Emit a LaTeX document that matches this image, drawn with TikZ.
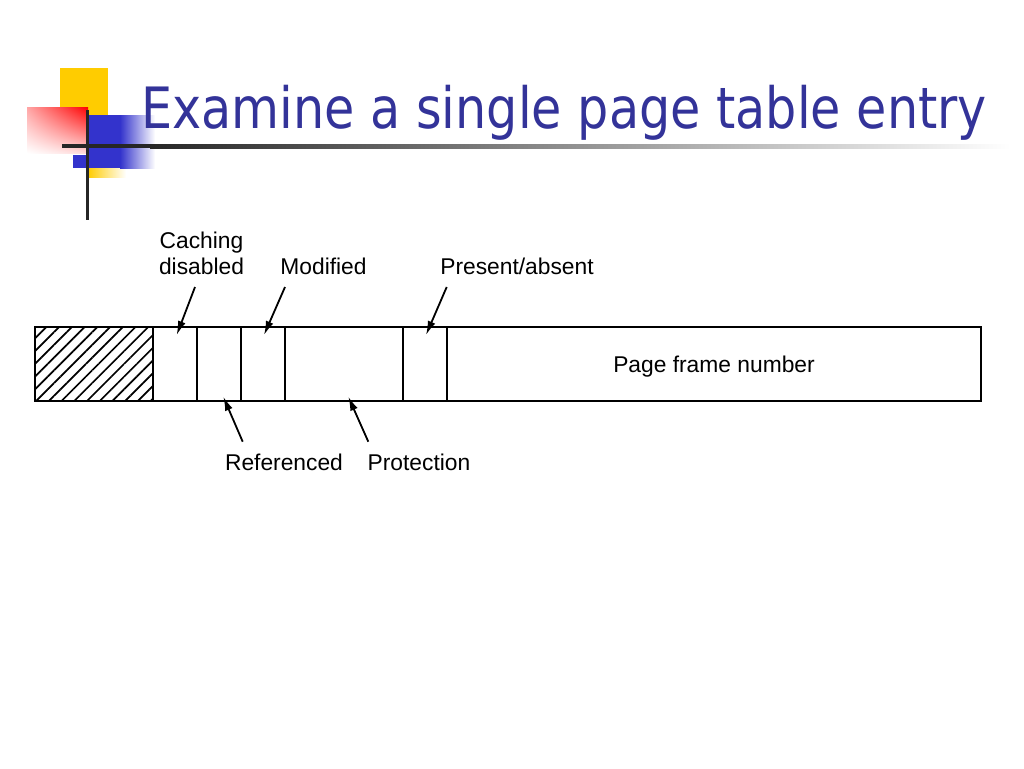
\documentclass[tikz,border=0pt]{standalone}
\usepackage{fontspec}
\setmainfont{Liberation Sans}
\newfontfamily\titlefont{DejaVu Sans}
\usepackage{xcolor}
\usetikzlibrary{positioning, patterns.meta, arrows.meta, shadings}

\definecolor{titleblue}{RGB}{51,51,153}
\definecolor{logoblue}{RGB}{51,51,204}
\definecolor{logoyellow}{RGB}{255,204,0}

\begin{document}
\begin{tikzpicture}[x=1pt, y=-1pt]
            % Field and text styles
            \tikzstyle{field} = [rectangle, draw, line width=2.8pt, outer sep=0pt, inner sep=0pt, minimum height=74pt, font=\fontsize{22.8}{26}\selectfont]
            \tikzstyle{bit} = [field, minimum width=44pt]
            \tikzstyle{fieldtext} = [align=center, inner sep=0pt, font=\fontsize{22.8}{26}\selectfont]
            \tikzstyle{pointer} = [-{Latex[length=14pt,width=8pt]}, line width=1.8pt]

            \useasboundingbox (0,0) rectangle (1024,768);

            % Slide decoration
            \fill[logoyellow] (60,68) rectangle (108,120);
            \shade[left color=logoyellow, right color=white] (88,158) rectangle (126,177);
            \shade[upper right=red, upper left=red!35, lower right=red!15, lower left=white] (27,107) rectangle (88,153);
            \fill[logoblue] (88,115) rectangle (120,168);
            \fill[logoblue] (73,155) rectangle (88,168);
            \shade[left color=logoblue, right color=white] (120,115) rectangle (155,168);
            \fill[black!85] (62,144) rectangle (150,148);
            \shade[left color=black!85, right color=white] (150,144) rectangle (1010,148);
            \fill[black!85] (85.5,110) rectangle (88.5,220);

            % Title
            \node[anchor=base west, inner sep=0pt, text=titleblue, font=\titlefont\fontsize{57}{60}\selectfont] (title) at (141,128.3) {\scalebox{0.864}[1]{Examine a single page table entry}};

            % Page table entry
            \node[field, minimum width=118pt, pattern={Lines[angle=45, distance=9pt, line width=1.7pt]}] (reserved) at (94,364) {};
            \node[bit, right=0pt of reserved] (caching) {};
            \node[bit, right=0pt of caching] (referenced) {};
            \node[bit, right=0pt of referenced] (modified) {};
            \node[field, minimum width=118pt, right=0pt of modified] (protection) {};
            \node[bit, right=0pt of protection] (present) {};
            \node[field, minimum width=534pt, right=0pt of present] (frame) {\raisebox{0pt}[16pt][0pt]{Page frame number}};

            % Labels above
            \node[fieldtext, anchor=base] (caching_lbl) at (201.5,274) {Caching\\disabled};
            \node[fieldtext, anchor=base] (modified_lbl) at (323.5,274) {Modified};
            \node[fieldtext, anchor=base] (present_lbl) at (517,274) {Present/absent};

            % Labels below
            \node[fieldtext, anchor=base] (referenced_lbl) at (284,470) {Referenced};
            \node[fieldtext, anchor=base] (protection_lbl) at (419,470) {Protection};

            % Pointers
            \draw[pointer] ([xshift=-6.5pt,yshift=-13pt]caching_lbl.base) -- ([xshift=1.7pt,yshift=-8pt]caching.north);
            \draw[pointer] ([xshift=-38.5pt,yshift=-13pt]modified_lbl.base) -- ([xshift=1pt,yshift=-8pt]modified.north);
            \draw[pointer] ([xshift=-70.3pt,yshift=-13pt]present_lbl.base) -- ([xshift=1pt,yshift=-8pt]present.north);
            \draw[pointer] ([xshift=-41.3pt,yshift=28.3pt]referenced_lbl.base) -- ([xshift=4.3pt,yshift=4.3pt]referenced.south);
            \draw[pointer] ([xshift=-50.7pt,yshift=28.3pt]protection_lbl.base) -- ([xshift=4.3pt,yshift=4.3pt]protection.south);
\end{tikzpicture}
\end{document}
